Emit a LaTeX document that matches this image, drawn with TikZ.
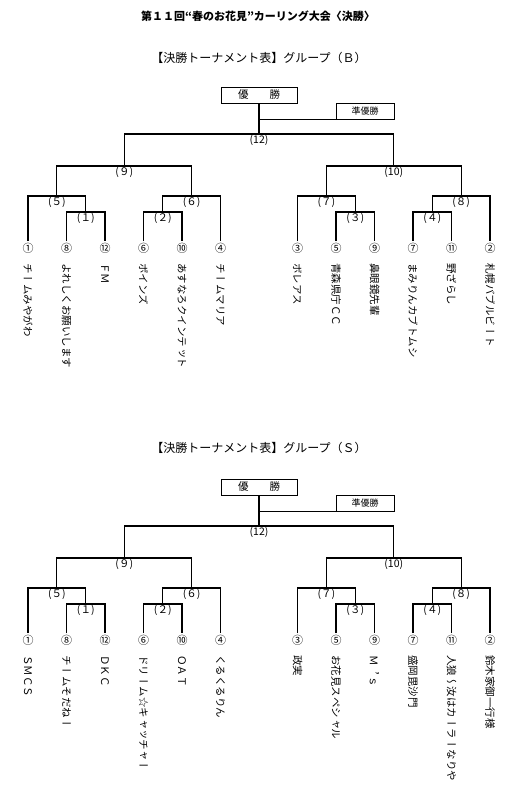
\documentclass[tikz,border=0pt]{standalone}
\usepackage{fontspec}
\setmainfont{Noto Sans CJK JP}
\newfontfamily\tate[Vertical=RotatedGlyphs]{Noto Sans CJK JP}
\usepackage{tikz}
\usetikzlibrary{positioning}

\begin{document}
\begin{tikzpicture}[x=1pt, y=-1pt,
    line/.style={draw, line width=1.1pt},
    box/.style={rectangle, draw, line width=0.9pt, minimum width=76pt, minimum height=16pt,
                inner sep=0pt, font=\fontsize{10.5}{12}\selectfont},
    subbox/.style={box, minimum width=58pt, font=\fontsize{9}{10}\selectfont},
    seed/.style={inner sep=1.5pt, font=\fontsize{11}{12}\selectfont},
    team/.style={anchor=west, rotate=-90, inner sep=0pt, font=\fontsize{10.5}{12}\tate},
    round/.style={anchor=north, inner sep=1pt, font=\fontsize{10.5}{12}\selectfont}
]
\useasboundingbox (0,0) rectangle (519,800);

\node[font=\bfseries\fontsize{11}{13}\selectfont] (title) at (258,16)
    {第１１回“春のお花見”カーリング大会〈決勝〉};
\node[font=\fontsize{12}{14}\selectfont] (headB) at (259,58) {【決勝トーナメント表】グループ（Ｂ）};
\node[font=\fontsize{12}{14}\selectfont] (headS) at (259,448) {【決勝トーナメント表】グループ（Ｓ）};

% group B
\begin{scope}
\node[box] (Bwin) at (259,95) {優\hspace{2em}勝};
\node[subbox] (Brun) at (365,111) {準優勝};
\foreach \k/\num/\name [count=\i] in {0/①/チームみやがわ, 1/⑧/よれしくお願いします, 2/⑫/ＦＭ,
    3/⑥/ポインズ, 4/⑩/あすなろクインテット, 5/④/チームマリア, 7/③/ボレアス, 8/⑤/青森県庁ＣＣ,
    9/⑨/鼻眼鏡先輩, 10/⑦/まみりんカブトムシ, 11/⑪/野ざらし, 12/②/札幌バブルビート}
  {\node[seed] (B\i) at ({28+38.5*\k},248) {\num};
   \node[team] (Bt\i) at ({28+38.5*\k},263) {\name};}
\coordinate (Bm1) at (85.75,212);
\coordinate (Bm2) at (162.75,212);
\coordinate (Bm3) at (355.25,212);
\coordinate (Bm4) at (432.25,212);
\coordinate (Bm5) at (56.9,196);
\coordinate (Bm6) at (191.6,196);
\coordinate (Bm7) at (326.4,196);
\coordinate (Bm8) at (461.1,196);
\coordinate (Bm9) at (124.25,166);
\coordinate (Bm10) at (393.75,166);
\coordinate (Bm12) at (259,134);
\draw[line] (B2.north) |- (Bm1) -| (B3.north);
\draw[line] (B4.north) |- (Bm2) -| (B5.north);
\draw[line] (B8.north) |- (Bm3) -| (B9.north);
\draw[line] (B10.north) |- (Bm4) -| (B11.north);
\draw[line] (B1.north) |- (Bm5) -| (Bm1);
\draw[line] (Bm2) |- (Bm6) -| (B6.north);
\draw[line] (B7.north) |- (Bm7) -| (Bm3);
\draw[line] (Bm4) |- (Bm8) -| (B12.north);
\draw[line] (Bm5) |- (Bm9) -| (Bm6);
\draw[line] (Bm7) |- (Bm10) -| (Bm8);
\draw[line] (Bm9) |- (Bm12) -| (Bm10);
\draw[line] (Bm12) -- (Bwin);
\draw[line] (Bwin.south |- Brun.south) -- (Brun.south west);
\node[round] (Bn1) at (Bm1) {(１)};
\node[round] (Bn2) at (Bm2) {(２)};
\node[round] (Bn3) at (Bm3) {(３)};
\node[round] (Bn4) at (Bm4) {(４)};
\node[round] (Bn5) at (Bm5) {(５)};
\node[round] (Bn6) at (Bm6) {(６)};
\node[round] (Bn7) at (Bm7) {(７)};
\node[round] (Bn8) at (Bm8) {(８)};
\node[round] (Bn9) at (Bm9) {(９)};
\node[round] (Bn10) at (Bm10) {(10)};
\node[round] (Bn12) at (Bm12) {(12)};
\end{scope}

% group S
\begin{scope}[yshift=-392pt]
\node[box] (Swin) at (259,95) {優\hspace{2em}勝};
\node[subbox] (Srun) at (365,111) {準優勝};
\foreach \k/\num/\name [count=\i] in {0/①/ＳＭＣＳ, 1/⑧/チームそだねー, 2/⑫/ＤＫＣ,
    3/⑥/ドリーム☆キャッチャー, 4/⑩/ＯＡＴ, 5/④/くるくるりん, 7/③/政実, 8/⑤/お花見スペシャル,
    9/⑨/Ｍ，ｓ, 10/⑦/盛岡毘沙門, 11/⑪/人狼～汝はカーラーなりや, 12/②/鈴木家御一行様}
  {\node[seed] (S\i) at ({28+38.5*\k},248) {\num};
   \node[team] (St\i) at ({28+38.5*\k},263) {\name};}
\coordinate (Sm1) at (85.75,212);
\coordinate (Sm2) at (162.75,212);
\coordinate (Sm3) at (355.25,212);
\coordinate (Sm4) at (432.25,212);
\coordinate (Sm5) at (56.9,196);
\coordinate (Sm6) at (191.6,196);
\coordinate (Sm7) at (326.4,196);
\coordinate (Sm8) at (461.1,196);
\coordinate (Sm9) at (124.25,166);
\coordinate (Sm10) at (393.75,166);
\coordinate (Sm12) at (259,134);
\draw[line] (S2.north) |- (Sm1) -| (S3.north);
\draw[line] (S4.north) |- (Sm2) -| (S5.north);
\draw[line] (S8.north) |- (Sm3) -| (S9.north);
\draw[line] (S10.north) |- (Sm4) -| (S11.north);
\draw[line] (S1.north) |- (Sm5) -| (Sm1);
\draw[line] (Sm2) |- (Sm6) -| (S6.north);
\draw[line] (S7.north) |- (Sm7) -| (Sm3);
\draw[line] (Sm4) |- (Sm8) -| (S12.north);
\draw[line] (Sm5) |- (Sm9) -| (Sm6);
\draw[line] (Sm7) |- (Sm10) -| (Sm8);
\draw[line] (Sm9) |- (Sm12) -| (Sm10);
\draw[line] (Sm12) -- (Swin);
\draw[line] (Swin.south |- Srun.south) -- (Srun.south west);
\node[round] (Sn1) at (Sm1) {(１)};
\node[round] (Sn2) at (Sm2) {(２)};
\node[round] (Sn3) at (Sm3) {(３)};
\node[round] (Sn4) at (Sm4) {(４)};
\node[round] (Sn5) at (Sm5) {(５)};
\node[round] (Sn6) at (Sm6) {(６)};
\node[round] (Sn7) at (Sm7) {(７)};
\node[round] (Sn8) at (Sm8) {(８)};
\node[round] (Sn9) at (Sm9) {(９)};
\node[round] (Sn10) at (Sm10) {(10)};
\node[round] (Sn12) at (Sm12) {(12)};
\end{scope}
\end{tikzpicture}
\end{document}
